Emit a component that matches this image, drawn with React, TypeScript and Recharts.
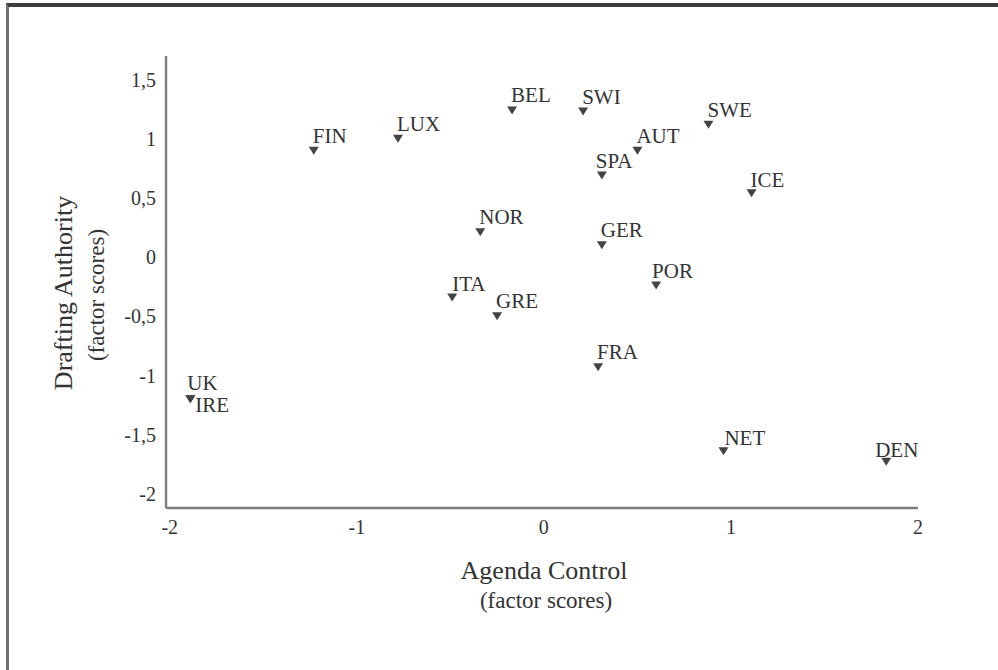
import React from 'react';
import { ScatterChart, Scatter, XAxis, YAxis } from 'recharts';

// country codes with their factor scores
const countries = ['FIN', 'LUX', 'BEL', 'SWI', 'SWE', 'AUT', 'SPA', 'ICE', 'NOR', 'GER', 'POR', 'ITA', 'GRE', 'FRA', 'UK', 'IRE', 'NET', 'DEN'];
const agendaControl = [-1.23, -0.78, -0.17, 0.21, 0.88, 0.5, 0.31, 1.11, -0.34, 0.31, 0.6, -0.49, -0.25, 0.29, -1.89, -1.89, 0.96, 1.83];
const draftingAuthority = [0.9, 1.0, 1.24, 1.23, 1.12, 0.9, 0.69, 0.54, 0.21, 0.1, -0.24, -0.34, -0.5, -0.93, -1.2, -1.2, -1.64, -1.73];

const xTicks = [-2, -1, 0, 1, 2];
const yTicks = [-2, -1.5, -1, -0.5, 0, 0.5, 1, 1.5];

// label offsets from the marker (most labels sit up and to the right)
const labelOffsets: Record<string, [number, number]> = {
  SPA: [-6, -8],
  POR: [-4, -8],
  UK: [-3, -9],
  IRE: [5, 13],
  NET: [1, -6],
  DEN: [-11, -5],
  ICE: [-1, -6],
  ITA: [0, -6],
};

const data = countries.map((c, i) => ({ country: c, x: agendaControl[i], y: draftingAuthority[i] }));

const serif = '"Liberation Serif", "Times New Roman", serif';
const textColor = '#333';
const axisStyle = { stroke: '#808080', strokeWidth: 2.5 };

const renderMarker = (props: any) => {
  const { cx, cy, payload } = props;
  const [dx, dy] = labelOffsets[payload.country] || [-1, -8];
  return (
    <g>
      <path d={`M${cx - 5},${cy - 4}L${cx + 5},${cy - 4}L${cx},${cy + 4}Z`} fill="#444" />
      <text x={cx + dx} y={cy + dy} fontSize={21} fontFamily={serif} fill={textColor}>
        {payload.country}
      </text>
    </g>
  );
};

const XTitle = (props: any) => {
  const { x, y, width } = props.viewBox;
  const mid = x + width / 2 + 2;
  return (
    <g fontFamily={serif} fill={textColor} textAnchor="middle">
      <text x={mid} y={y + 71} fontSize={26}>Agenda Control</text>
      <text x={mid + 2} y={y + 100} fontSize={23}>(factor scores)</text>
    </g>
  );
};

const YTitle = (props: any) => {
  const { y, height } = props.viewBox;
  const mid = y + height / 2 + 11;
  return (
    <g fontFamily={serif} fill={textColor} textAnchor="middle">
      <text x={72} y={mid} fontSize={26} transform={`rotate(-90 72 ${mid})`}>Drafting Authority</text>
      <text x={104} y={mid + 2} fontSize={23} transform={`rotate(-90 104 ${mid + 2})`}>(factor scores)</text>
    </g>
  );
};

export default function App() {
  return (
    <div style={{ position: 'absolute', left: 0, top: 0, width: 998, height: 670, background: '#fff' }}>
      <div
        style={{
          position: 'absolute',
          left: 6,
          top: 3,
          width: 992,
          height: 667,
          borderTop: '4px solid #3c3c3c',
          borderLeft: '3px solid #707070',
          boxSizing: 'border-box',
        }}
      />
      <div style={{ position: 'absolute', left: 0, top: 0 }}>
        <ScatterChart width={998} height={670} margin={{ top: 56, right: 80, bottom: 0, left: 0 }}>
          <XAxis
            type="number"
            dataKey="x"
            domain={[-2.02, 2]}
            ticks={xTicks}
            allowDataOverflow
            height={162}
            axisLine={axisStyle}
            tickLine={false}
            tickMargin={6}
            tick={{ fill: textColor, fontSize: 20, fontFamily: serif }}
            label={{ content: XTitle }}
          />
          <YAxis
            type="number"
            dataKey="y"
            domain={[-2.12, 1.7]}
            ticks={yTicks}
            allowDataOverflow
            width={166}
            axisLine={axisStyle}
            tickLine={false}
            tickMargin={4}
            tickFormatter={(v: number) => String(v).replace('.', ',')}
            tick={{ fill: textColor, fontSize: 20, fontFamily: serif }}
            label={{ content: YTitle }}
          />
          <Scatter data={data} shape={renderMarker} isAnimationActive={false} />
        </ScatterChart>
      </div>
    </div>
  );
}
